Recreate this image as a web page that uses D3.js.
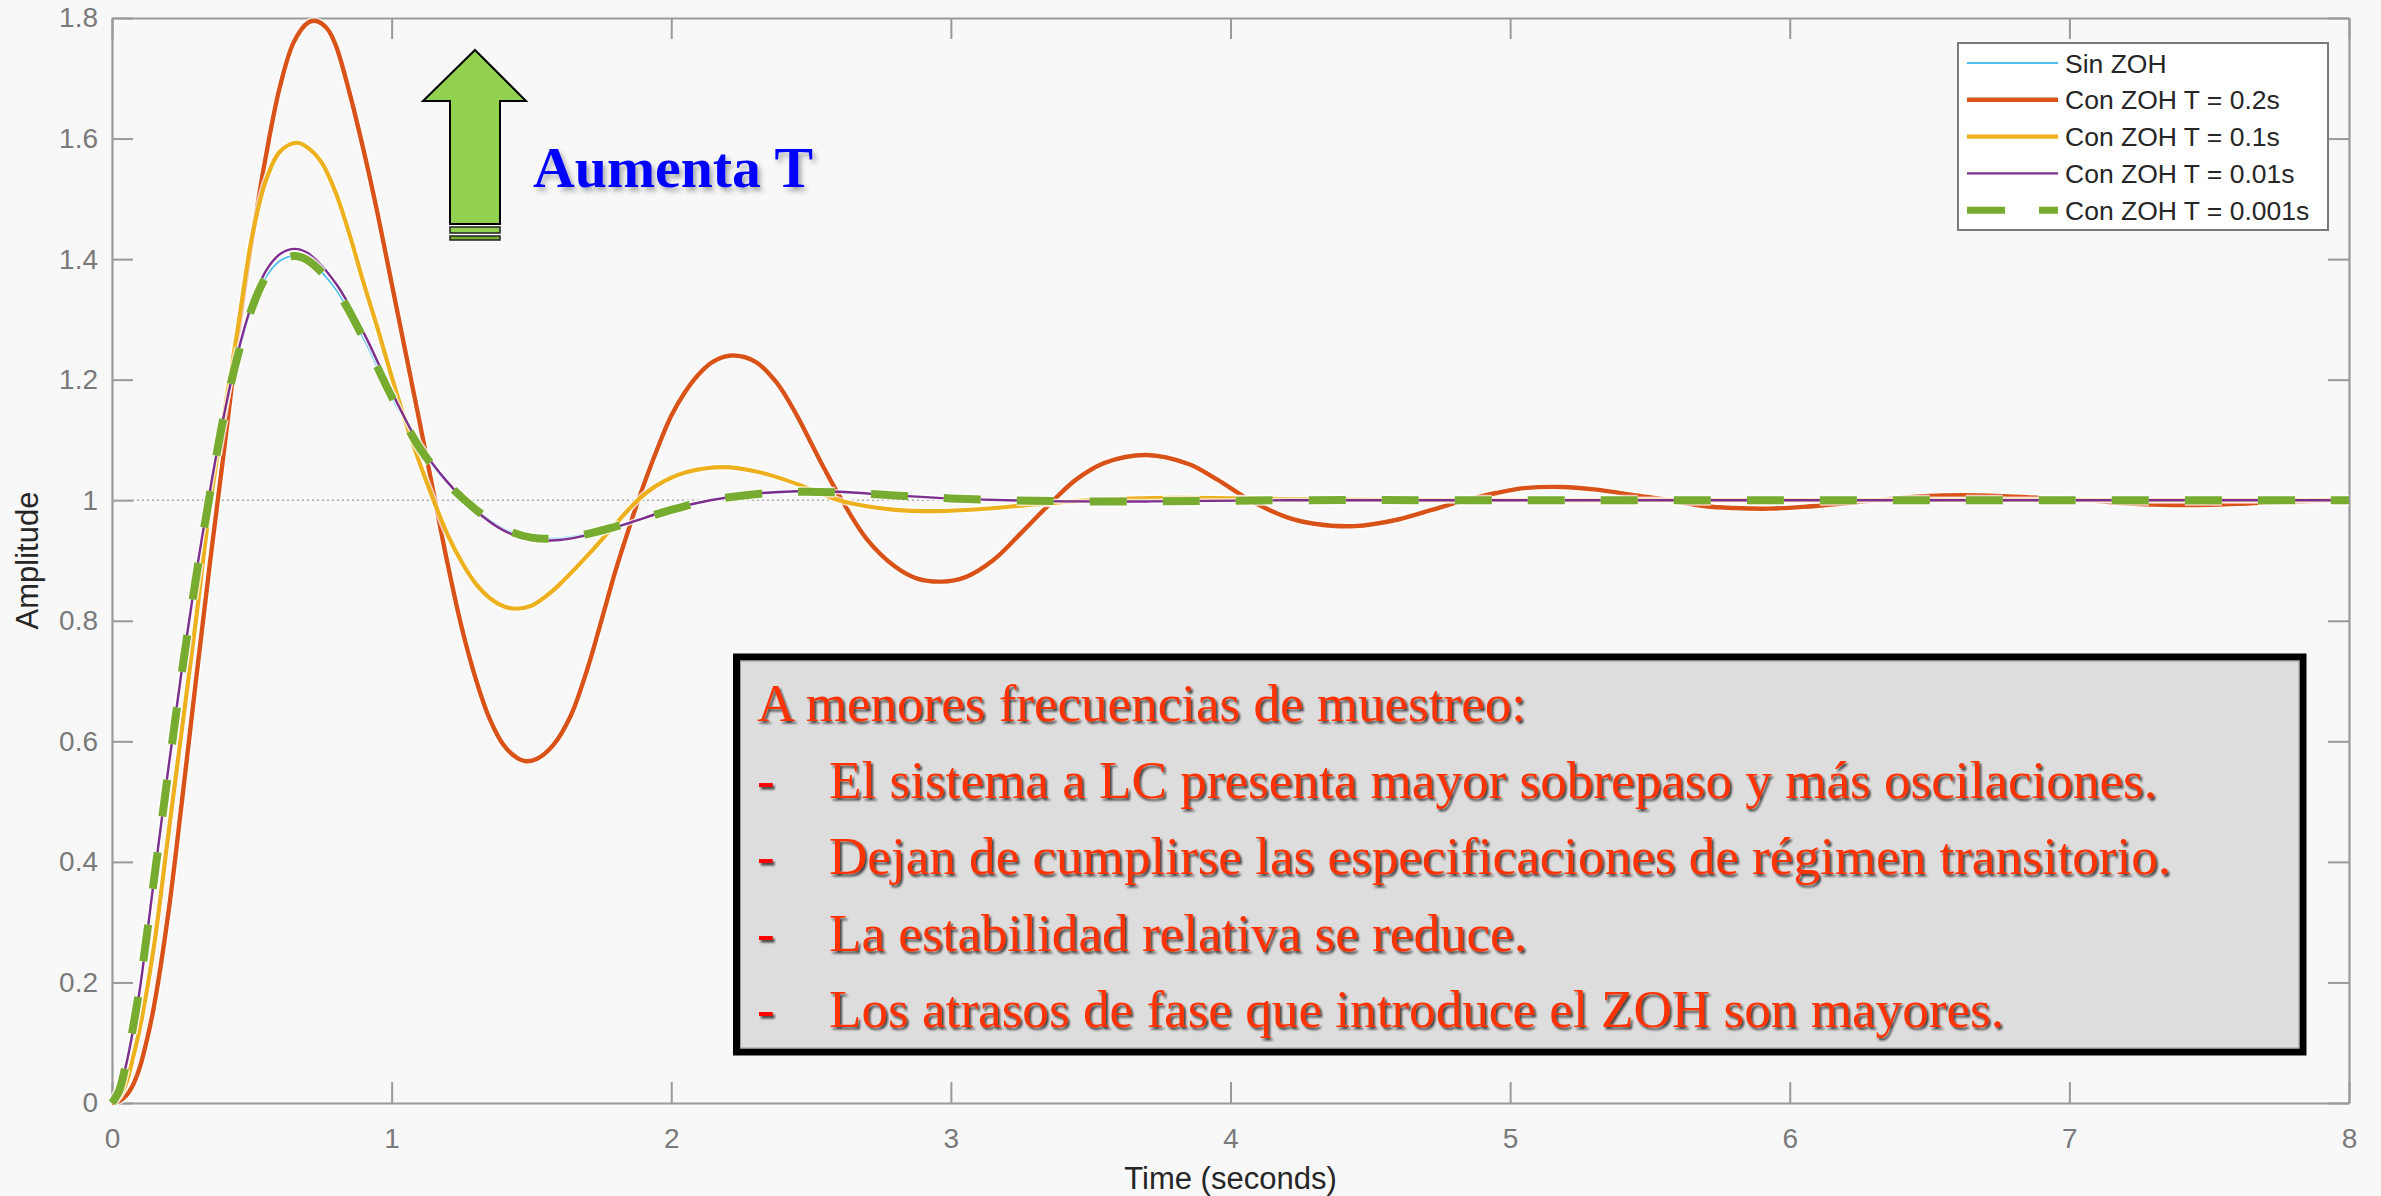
<!DOCTYPE html>
<html>
<head>
<meta charset="utf-8">
<script src="https://cdn.jsdelivr.net/npm/d3@7"></script>
<style>
  html, body { margin: 0; padding: 0; background: #f8f8f8; }
  svg { display: block; }
</style>
</head>
<body>
<svg id="chart" width="2381" height="1196"></svg>
<script>
// ---- tick values ----
const xTicks = [0, 1, 2, 3, 4, 5, 6, 7, 8];
const yTicks = [0, 0.2, 0.4, 0.6, 0.8, 1, 1.2, 1.4, 1.6, 1.8];
const yTickLabels = ["0", "0.2", "0.4", "0.6", "0.8", "1", "1.2", "1.4", "1.6", "1.8"];

// ---- legend entries ----
const seriesNames = ["Sin ZOH", "Con ZOH T = 0.2s", "Con ZOH T = 0.1s", "Con ZOH T = 0.01s", "Con ZOH T = 0.001s"];

// ---- step responses: [time (s), amplitude] ----
const sinZOH = [
  [0,0],[0.025,0.02],[0.05,0.065],[0.075,0.125],[0.1,0.195],[0.15,0.37],[0.2,0.545],[0.25,0.715],
  [0.3,0.87],[0.35,1.01],[0.4,1.14],[0.45,1.24],[0.5,1.318],[0.55,1.37],[0.6,1.397],[0.65,1.405],
  [0.7,1.398],[0.8,1.35],[0.9,1.268],[1.0,1.172],[1.1,1.087],[1.2,1.028],[1.3,0.985],[1.4,0.953],
  [1.5,0.938],[1.6,0.937],[1.7,0.944],[1.8,0.956],[1.9,0.97],[2.0,0.984],[2.14,1.0],[2.3,1.01],
  [2.45,1.014],[2.6,1.013],[2.8,1.008],[3.0,1.003],[3.3,0.999],[3.7,0.998],[4.2,1.0],[5,1.0],[6,1.0],[7,1.0],[8,1.0]
];
const zohT02 = [
  [0,0],[0.025,0.003],[0.05,0.012],[0.075,0.03],[0.1,0.06],[0.125,0.105],[0.15,0.16],[0.2,0.31],
  [0.25,0.5],[0.3,0.7],[0.35,0.895],[0.4,1.08],[0.45,1.27],[0.5,1.43],[0.55,1.57],[0.6,1.685],
  [0.65,1.76],[0.7,1.792],[0.73,1.795],[0.77,1.782],[0.8,1.755],[0.85,1.675],[0.9,1.58],[0.95,1.475],
  [1.0,1.36],[1.05,1.245],[1.1,1.13],[1.15,1.012],[1.2,0.895],[1.25,0.79],[1.3,0.705],[1.35,0.638],
  [1.4,0.594],[1.45,0.572],[1.48,0.567],[1.52,0.571],[1.58,0.595],[1.64,0.642],[1.7,0.72],[1.75,0.8],
  [1.8,0.882],[1.85,0.955],[1.882,1.0],[1.95,1.085],[2.0,1.14],[2.05,1.18],[2.1,1.21],[2.15,1.23],
  [2.216,1.24],[2.3,1.23],[2.377,1.195],[2.45,1.14],[2.5,1.095],[2.55,1.05],[2.61,1.0],[2.7,0.935],
  [2.8,0.89],[2.88,0.87],[2.967,0.865],[3.05,0.872],[3.15,0.9],[3.25,0.945],[3.367,1.0],[3.45,1.035],
  [3.55,1.062],[3.7,1.075],[3.85,1.06],[3.95,1.035],[4.07,1.0],[4.2,0.972],[4.3,0.961],[4.444,0.957],
  [4.6,0.968],[4.72,0.984],[4.84,1.0],[4.95,1.012],[5.05,1.02],[5.185,1.022],[5.3,1.018],[5.45,1.008],
  [5.57,1.0],[5.7,0.99],[5.8,0.987],[5.926,0.986],[6.05,0.989],[6.2,0.995],[6.31,1.0],[6.45,1.006],
  [6.55,1.008],[6.68,1.008],[6.85,1.005],[6.95,1.002],[7.06,1.0],[7.2,0.995],[7.3,0.993],[7.45,0.992],
  [7.6,0.994],[7.8,0.998],[8.0,1.0]
];
const zohT01 = [
  [0,0],[0.025,0.01],[0.05,0.032],[0.075,0.075],[0.1,0.125],[0.15,0.26],[0.2,0.44],[0.25,0.62],
  [0.3,0.8],[0.35,0.99],[0.4,1.14],[0.45,1.285],[0.5,1.435],[0.55,1.53],[0.6,1.578],[0.66,1.593],
  [0.7,1.585],[0.75,1.56],[0.8,1.51],[0.85,1.44],[0.9,1.36],[0.95,1.285],[1.0,1.205],[1.05,1.13],
  [1.1,1.062],[1.15,1.0],[1.2,0.943],[1.25,0.898],[1.3,0.862],[1.35,0.838],[1.4,0.824],[1.44,0.82],
  [1.5,0.825],[1.55,0.84],[1.6,0.86],[1.7,0.908],[1.8,0.96],[1.88,1.0],[1.95,1.025],[2.05,1.046],
  [2.19,1.055],[2.3,1.048],[2.4,1.035],[2.5,1.018],[2.6,1.0],[2.7,0.99],[2.8,0.984],[2.95,0.982],
  [3.1,0.985],[3.3,0.993],[3.5,1.0],[3.8,1.004],[4.2,1.002],[4.6,1.0],[5.5,1.0],[6.5,1.0],[8,1.0]
];
const zohT001 = [
  [0,0],[0.025,0.018],[0.05,0.062],[0.075,0.12],[0.1,0.19],[0.15,0.37],[0.2,0.55],[0.25,0.72],
  [0.3,0.875],[0.35,1.015],[0.4,1.14],[0.45,1.245],[0.5,1.325],[0.55,1.38],[0.6,1.408],[0.65,1.417],
  [0.7,1.41],[0.8,1.36],[0.9,1.278],[1.0,1.18],[1.1,1.092],[1.2,1.03],[1.3,0.983],[1.4,0.95],
  [1.5,0.934],[1.6,0.934],[1.7,0.942],[1.8,0.955],[1.9,0.97],[2.0,0.985],[2.14,1.0],[2.3,1.011],
  [2.45,1.015],[2.6,1.014],[2.8,1.008],[3.0,1.003],[3.3,0.999],[3.7,0.998],[4.2,1.0],[5,1.0],[6,1.0],[7,1.0],[8,1.0]
];
const zohT0001 = [
  [0,0],[0.025,0.02],[0.05,0.065],[0.075,0.125],[0.1,0.195],[0.15,0.37],[0.2,0.545],[0.25,0.715],
  [0.3,0.87],[0.35,1.01],[0.4,1.14],[0.45,1.24],[0.5,1.318],[0.55,1.37],[0.6,1.397],[0.65,1.405],
  [0.7,1.398],[0.8,1.35],[0.9,1.268],[1.0,1.172],[1.1,1.087],[1.2,1.028],[1.3,0.985],[1.4,0.953],
  [1.5,0.938],[1.6,0.937],[1.7,0.944],[1.8,0.956],[1.9,0.97],[2.0,0.984],[2.14,1.0],[2.3,1.01],
  [2.45,1.014],[2.6,1.013],[2.8,1.008],[3.0,1.003],[3.3,0.999],[3.7,0.998],[4.2,1.0],[5,1.0],[6,1.0],[7,1.0],[8,1.0]
];
const seriesData = [sinZOH, zohT02, zohT01, zohT001, zohT0001];

// ---- annotation text ----
const boxLines = [
  "A menores frecuencias de muestreo:",
  "El sistema a LC presenta mayor sobrepaso y más oscilaciones.",
  "Dejan de cumplirse las especificaciones de régimen transitorio.",
  "La estabilidad relativa se reduce.",
  "Los atrasos de fase que introduce el ZOH son mayores."
];
const arrowLabel = "Aumenta T";

// ---- styling ----
const seriesStyle = [
  { color: "#4DBEEE", width: 1.8, dash: null },
  { color: "#D95319", width: 4.4, dash: null },
  { color: "#EDB120", width: 4.2, dash: null },
  { color: "#7E2F8E", width: 2.4, dash: null },
  { color: "#77AC30", width: 8,   dash: "37,36" }
];
const axisGray = "#9a9a9a";
const tickTextColor = "#7a7a7a";
const labelColor = "#262626";
const sansFont = "'Liberation Sans', Arial, Helvetica, sans-serif";
const serifFont = "'Liberation Serif', 'Times New Roman', serif";

const svg = d3.select("#chart");
svg.append("rect").attr("width", 2381).attr("height", 1196).attr("fill", "#f8f8f8");

const defs = svg.append("defs");
defs.append("filter").attr("id", "boxShadow").attr("x", "-5%").attr("y", "-20%").attr("width", "110%").attr("height", "150%")
  .append("feDropShadow").attr("dx", 2).attr("dy", 2.5).attr("stdDeviation", 1.1)
  .attr("flood-color", "#000").attr("flood-opacity", 0.7);
defs.append("filter").attr("id", "titleShadow").attr("x", "-5%").attr("y", "-20%").attr("width", "115%").attr("height", "160%")
  .append("feDropShadow").attr("dx", 3).attr("dy", 4).attr("stdDeviation", 2.5)
  .attr("flood-color", "#444").attr("flood-opacity", 0.45);

// ---- scales ----
const x = d3.scaleLinear().domain([0, 8]).range([112, 2349]);
const y = d3.scaleLinear().domain([0, 1.8]).range([1103, 18]);

// ---- axes (box style, inward ticks) ----
const tickLen = 21;
function styleAxis(g) {
  g.select(".domain").attr("stroke", axisGray).attr("stroke-width", 2.2);
  g.selectAll(".tick line").attr("stroke", axisGray).attr("stroke-width", 2);
  g.selectAll(".tick text").attr("fill", tickTextColor).attr("font-family", sansFont).attr("font-size", 28);
}
svg.append("g").attr("transform", `translate(0,${y(0)})`)
  .call(d3.axisBottom(x).tickValues(xTicks).tickFormat(d3.format("d")).tickSizeInner(-tickLen).tickSizeOuter(0).tickPadding(25))
  .call(styleAxis);
svg.append("g").attr("transform", `translate(0,${y(1.8)})`)
  .call(d3.axisTop(x).tickValues(xTicks).tickFormat("").tickSizeInner(-tickLen).tickSizeOuter(0))
  .call(styleAxis);
svg.append("g").attr("transform", `translate(${x(0)},0)`)
  .call(d3.axisLeft(y).tickValues(yTicks).tickFormat((d, i) => yTickLabels[i]).tickSizeInner(-tickLen).tickSizeOuter(0).tickPadding(14))
  .call(styleAxis);
svg.append("g").attr("transform", `translate(${x(8)},0)`)
  .call(d3.axisRight(y).tickValues(yTicks).tickFormat("").tickSizeInner(-tickLen).tickSizeOuter(0))
  .call(styleAxis);

// axis titles
svg.append("text").attr("x", (x(0) + x(8)) / 2).attr("y", 1189).attr("text-anchor", "middle")
  .attr("font-family", sansFont).attr("font-size", 31).attr("fill", labelColor).text("Time (seconds)");
svg.append("text").attr("transform", `translate(38,${(y(0) + y(1.8)) / 2}) rotate(-90)`).attr("text-anchor", "middle")
  .attr("font-family", sansFont).attr("font-size", 31).attr("fill", labelColor).text("Amplitude");

// steady-state reference line
svg.append("line").attr("x1", x(0)).attr("x2", x(8)).attr("y1", y(1)).attr("y2", y(1))
  .attr("stroke", "#a8a8a8").attr("stroke-width", 1.6).attr("stroke-dasharray", "2,3");

// ---- response curves ----
const line = d3.line().x(d => x(d[0])).y(d => y(d[1])).curve(d3.curveCatmullRom.alpha(0.5));
const curves = svg.append("g");
seriesData.forEach((data, i) => {
  const st = seriesStyle[i];
  curves.append("path").datum(data).attr("d", line).attr("fill", "none")
    .attr("stroke", "#ffffff").attr("stroke-opacity", 0.7).attr("stroke-width", st.width + 3)
    .attr("stroke-dasharray", st.dash).attr("stroke-linejoin", "round");
  curves.append("path").datum(data).attr("d", line).attr("fill", "none")
    .attr("stroke", st.color).attr("stroke-width", st.width)
    .attr("stroke-dasharray", st.dash).attr("stroke-linejoin", "round");
});

// ---- legend ----
const legend = svg.append("g");
legend.append("rect").attr("x", 1958).attr("y", 43).attr("width", 370).attr("height", 187)
  .attr("fill", "#ffffff").attr("stroke", "#7a7a7a").attr("stroke-width", 2);
seriesNames.forEach((name, i) => {
  const st = seriesStyle[i];
  const ry = 63 + i * 36.8;
  legend.append("line").attr("x1", 1967).attr("x2", 2058).attr("y1", ry).attr("y2", ry)
    .attr("stroke", st.color).attr("stroke-width", Math.min(st.width, 7))
    .attr("stroke-dasharray", st.dash ? "38,34" : null);
  legend.append("text").attr("x", 2065).attr("y", ry).attr("dy", "0.36em")
    .attr("font-family", sansFont).attr("font-size", 26.5).attr("fill", labelColor).text(name);
});

// ---- arrow annotation ----
const arrow = svg.append("g");
arrow.append("polygon")
  .attr("points", "475,50 526,101 500,101 500,224 450,224 450,101 423,101")
  .attr("fill", "#92D050").attr("stroke", "#000").attr("stroke-width", 2);
arrow.append("rect").attr("x", 450).attr("y", 227).attr("width", 50).attr("height", 6)
  .attr("fill", "#92D050").attr("stroke", "#222").attr("stroke-width", 1.5);
arrow.append("rect").attr("x", 450).attr("y", 236).attr("width", 50).attr("height", 4)
  .attr("fill", "#77AC30").attr("stroke", "#222").attr("stroke-width", 1.5);
svg.append("text").attr("x", 533).attr("y", 187)
  .attr("font-family", serifFont).attr("font-weight", "bold").attr("font-size", 58)
  .attr("fill", "#0000ff").attr("filter", "url(#titleShadow)")
  .attr("textLength", 280).attr("lengthAdjust", "spacingAndGlyphs").text(arrowLabel);

// ---- conclusions box ----
const box = svg.append("g");
box.append("rect").attr("x", 736.5).attr("y", 657).attr("width", 1566.5).attr("height", 395)
  .attr("fill", "#dddddd").attr("stroke", "#000").attr("stroke-width", 7);
box.append("rect").attr("x", 740.5).attr("y", 661).attr("width", 1558.5).attr("height", 387)
  .attr("fill", "none").attr("stroke", "#9a9a9a").attr("stroke-width", 1);
const lineWidths = [769, 1328, 1342, 698, 1175];
boxLines.forEach((txt, i) => {
  const by = 721 + i * 76.6;
  const tx = i === 0 ? 757 : 829;
  if (i > 0) {
    box.append("text").attr("x", 757).attr("y", by).attr("font-family", serifFont).attr("font-size", 53)
      .attr("fill", "#ff0000").attr("filter", "url(#boxShadow)").text("-");
  }
  box.append("text").attr("x", tx).attr("y", by).attr("font-family", serifFont).attr("font-size", 53)
    .attr("fill", "#ff3300").attr("filter", "url(#boxShadow)")
    .attr("textLength", lineWidths[i]).attr("lengthAdjust", "spacingAndGlyphs").text(txt);
});
</script>
</body>
</html>
